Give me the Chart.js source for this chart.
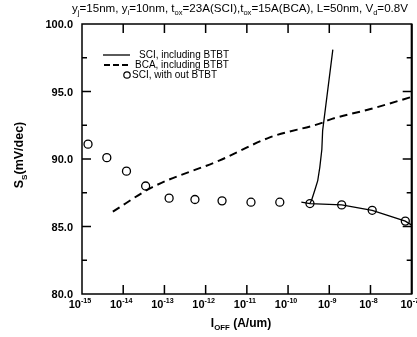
<!DOCTYPE html>
<html>
<head>
<meta charset="utf-8">
<script src="https://cdn.jsdelivr.net/npm/chart.js@4"></script>
<style>
  html, body { margin: 0; padding: 0; background: #fff; }
  #c { display: block; }
</style>
</head>
<body>
<canvas id="c" width="417" height="337"></canvas>
<script>
// SCI without BTBT (open circles)
const circleX = [1.4e-15, 4e-15, 1.2e-14, 3.5e-14, 1.3e-13, 5.5e-13, 2.5e-12, 1.26e-11, 6.3e-11, 3.4e-10, 2e-9, 1.1e-8, 7e-8]
const circleY = [91.1, 90.1, 89.1, 88.0, 87.1, 87.0, 86.9, 86.8, 86.8, 86.7, 86.6, 86.2, 85.4]

// SCI including BTBT (solid): flat part and the steep branch
const sciX = [2.1e-10, 3.4e-10, 2e-9, 1.1e-8, 7e-8, 1e-7]
const sciY = [86.8, 86.7, 86.6, 86.2, 85.4, 85.1]
const sciBranchX = [3.4e-10, 3.77e-10, 4.47e-10, 5.25e-10, 5.9e-10, 6.6e-10, 6.9e-10, 1.22e-9]
const sciBranchY = [86.7, 87.0, 87.7, 88.4, 89.4, 90.7, 92.1, 98.1]

// BCA including BTBT (dashed)
const bcaX = [5.6e-15, 5e-14, 2.2e-12, 3.6e-11, 7e-10, 1e-9, 1e-8, 1e-7]
const bcaY = [86.1, 87.9, 89.9, 91.6, 92.7, 92.9, 93.7, 94.6]

const yTicks = [80, 85, 90, 95, 100]
const yMinor = [82.5, 87.5, 92.5, 97.5]
const xDecades = [-15, -14, -13, -12, -11, -10, -9, -8, -7]

const FONT = 'Arial, "Liberation Sans", sans-serif'
const pts = (xs, ys) => xs.map((x, i) => ({ x, y: ys[i] }))

// text with sub (1) / superscript (2) pieces
function richWidth(ctx, parts, size, weight) {
  let w = 0
  for (const [t, m] of parts) {
    ctx.font = `${weight} ${m ? size * 0.65 : size}px ${FONT}`
    w += ctx.measureText(t).width
  }
  return w
}
function drawRich(ctx, parts, x, y, size, weight, align) {
  const w = richWidth(ctx, parts, size, weight)
  if (align === 'center') x -= w / 2
  else if (align === 'right') x -= w
  ctx.textBaseline = 'alphabetic'
  ctx.textAlign = 'left'
  for (const [t, m] of parts) {
    const s = m ? size * 0.65 : size
    ctx.font = `${weight} ${s}px ${FONT}`
    const dy = m === 1 ? size * 0.28 : m === 2 ? -size * 0.42 : 0
    ctx.fillText(t, x, y + dy)
    x += ctx.measureText(t).width
  }
}

const decor = {
  id: 'decor',
  afterDraw(chart) {
    const ctx = chart.ctx
    const a = chart.chartArea
    const xs = chart.scales.x, ys = chart.scales.y
    ctx.save()
    ctx.fillStyle = '#000'
    ctx.strokeStyle = '#000'

    // frame
    ctx.lineWidth = 1.5
    ctx.strokeRect(a.left, a.top, a.right - a.left, a.bottom - a.top)
    ctx.lineWidth = 2
    ctx.beginPath(); ctx.moveTo(a.right, a.top); ctx.lineTo(a.right, a.bottom); ctx.stroke()

    // inward ticks
    ctx.lineWidth = 1.5
    ctx.beginPath()
    xDecades.slice(1, -1).forEach(d => {
      const px = xs.getPixelForValue(Math.pow(10, d))
      ctx.moveTo(px, a.bottom); ctx.lineTo(px, a.bottom - 9)
      ctx.moveTo(px, a.top); ctx.lineTo(px, a.top + 9)
    })
    yTicks.slice(1, -1).forEach(v => {
      const py = ys.getPixelForValue(v)
      ctx.moveTo(a.left, py); ctx.lineTo(a.left + 9, py)
      ctx.moveTo(a.right, py); ctx.lineTo(a.right - 9, py)
    })
    yMinor.forEach(v => {
      const py = ys.getPixelForValue(v)
      ctx.moveTo(a.left, py); ctx.lineTo(a.left + 5, py)
      ctx.moveTo(a.right, py); ctx.lineTo(a.right - 5, py)
    })
    ctx.stroke()

    // y tick labels
    ctx.font = `bold 11px ${FONT}`
    ctx.textAlign = 'right'
    ctx.textBaseline = 'middle'
    yTicks.forEach(v => ctx.fillText(v.toFixed(1), 73, ys.getPixelForValue(v) + 1))

    // x tick labels
    xDecades.forEach(d => {
      const px = xs.getPixelForValue(Math.pow(10, d))
      drawRich(ctx, [['10', 0], [String(d), 2]], px - 2, 308, 11, 'bold', 'center')
    })

    // axis titles
    drawRich(ctx, [['I', 0], ['OFF', 1], [' (A/um)', 0]], 241, 327, 12, 'bold', 'center')
    ctx.save()
    ctx.translate(23, 155)
    ctx.rotate(-Math.PI / 2)
    drawRich(ctx, [['S', 0], ['S', 1], ['(mV/dec)', 0]], 0, 0, 12.5, 'bold', 'center')
    ctx.restore()

    // title line
    drawRich(ctx, [['y', 0], ['j', 1], ['=15nm, y', 0], ['i', 1], ['=10nm, t', 0], ['ox', 1],
      ['=23A(SCI),t', 0], ['ox', 1], ['=15A(BCA), L=50nm, V', 0], ['d', 1], ['=0.8V', 0]],
      72, 12, 11.6, 'normal', 'left')

    // legend
    ctx.lineWidth = 1.3
    ctx.beginPath(); ctx.moveTo(103, 55); ctx.lineTo(130, 55); ctx.stroke()
    ctx.lineWidth = 1.8
    ctx.setLineDash([6, 3])
    ctx.beginPath(); ctx.moveTo(104, 65); ctx.lineTo(130, 65); ctx.stroke()
    ctx.setLineDash([])
    ctx.lineWidth = 1.2
    ctx.beginPath(); ctx.arc(127, 75, 3.2, 0, Math.PI * 2); ctx.stroke()
    ctx.font = `10px ${FONT}`
    ctx.textAlign = 'left'
    ctx.textBaseline = 'middle'
    ctx.fillText('SCI, including BTBT', 139, 55)
    ctx.fillText('BCA, including BTBT', 135, 65)
    ctx.fillText('SCI, with out BTBT', 132, 75)
    ctx.restore()
  }
}

new Chart(document.getElementById('c'), {
  type: 'scatter',
  data: {
    datasets: [
      { label: 'SCI, including BTBT', data: pts(sciX, sciY), showLine: true, borderColor: '#000', borderWidth: 1.3, pointRadius: 0 },
      { label: 'SCI branch', data: pts(sciBranchX, sciBranchY), showLine: true, borderColor: '#000', borderWidth: 1.3, pointRadius: 0 },
      { label: 'BCA, including BTBT', data: pts(bcaX, bcaY), showLine: true, borderColor: '#000', borderWidth: 2, borderDash: [8, 5], pointRadius: 0, cubicInterpolationMode: 'monotone' },
      { label: 'SCI, with out BTBT', data: pts(circleX, circleY), showLine: false, borderColor: '#000', backgroundColor: 'rgba(0,0,0,0)', borderWidth: 1.3, pointRadius: 4 }
    ]
  },
  options: {
    responsive: false,
    animation: false,
    layout: { padding: { left: 82, right: 5, top: 24, bottom: 43 } },
    plugins: { legend: { display: false }, tooltip: { enabled: false } },
    scales: {
      x: { type: 'logarithmic', min: 1e-15, max: 1e-7, display: false },
      y: { type: 'linear', min: 80, max: 100, display: false }
    }
  },
  plugins: [decor]
})
</script>
</body>
</html>
